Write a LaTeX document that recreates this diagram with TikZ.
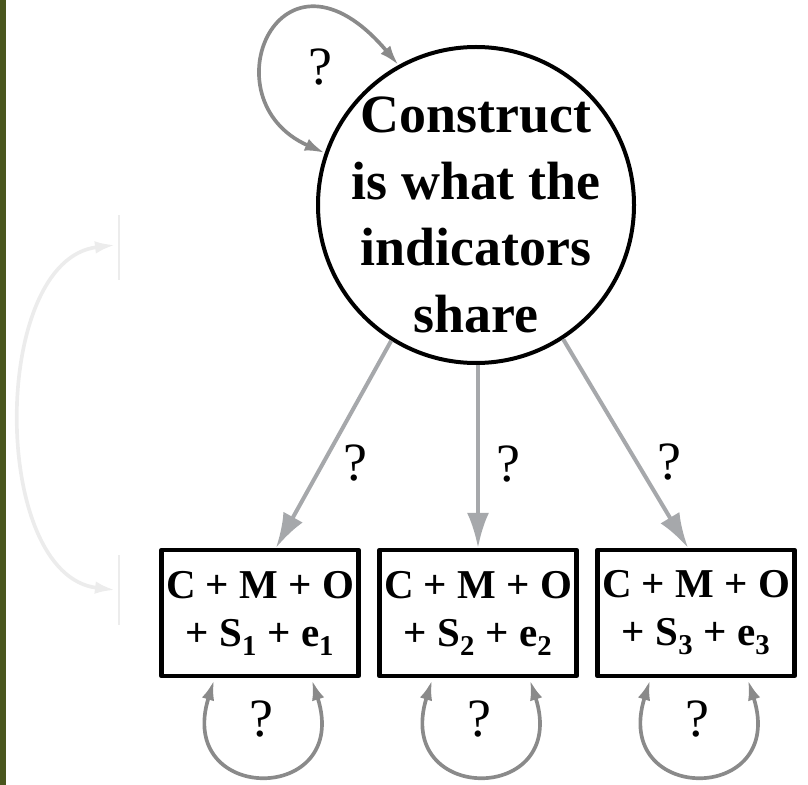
\documentclass[tikz,border=0pt]{standalone}
\usepackage{fontspec}
\setmainfont{Liberation Serif}
\usetikzlibrary{positioning, arrows.meta, calc}

\definecolor{bargreen}{RGB}{74,86,30}
\definecolor{pathgray}{RGB}{166,168,171}
\definecolor{loopgray}{RGB}{138,138,138}
\definecolor{fadegray}{RGB}{236,236,236}

\begin{document}
\begin{tikzpicture}[x=0.3mm, y=-0.3mm, line join=round,
    latent/.style={draw=black, circle, line width=1.2mm, minimum size=94.8mm, inner sep=0pt},
    indicator/.style={draw=black, rectangle, line width=1.3mm, minimum width=59.1mm, minimum height=37.8mm, inner sep=0pt, align=center, font=\fontsize{35}{41}\selectfont\bfseries},
    ctext/.style={align=center, font=\fontsize{46}{57}\selectfont\bfseries},
    qmark/.style={font=\fontsize{46}{46}\selectfont, inner sep=0pt},
    load/.style={draw=pathgray, line width=1.2mm, -{Latex[length=10.5mm, width=6.6mm]}},
    var/.style={draw=loopgray, line width=1.1mm, {Latex[length=6mm, width=3.8mm]}-{Latex[length=6mm, width=3.8mm]}},
    faded/.style={draw=fadegray, line width=1.1mm, {Latex[length=6mm, width=3.8mm]}-{Latex[length=6mm, width=3.8mm]}}]

    \useasboundingbox (0,0) rectangle (808,785);
    \fill[bargreen] (0,0) rectangle (6,785);

    % faded part on the left
    \coordinate (fadetop) at (115,245);
    \coordinate (fadebot) at (115,590);
    \draw[faded] (fadetop) .. controls (-10,260) and (-10,575) .. (fadebot);
    \draw[fadegray, line width=0.6mm] (119,215) -- (119,280) (119,555) -- (119,625);

    % construct
    \node[latent] (construct) at (476,205) {};
    \node[ctext] (ctxt) at ([yshift=-3mm]construct.center) {Construct\\is what the\\indicators\\share};

    % indicators
    \node[indicator] (ind2) at (478,613) {C + M + O\\+ S\textsubscript{2} + e\textsubscript{2}};
    \node[indicator, left=5mm of ind2] (ind1) {C + M + O\\+ S\textsubscript{1} + e\textsubscript{1}};
    \node[indicator, right=5mm of ind2] (ind3) {C + M + O\\+ S\textsubscript{3} + e\textsubscript{3}};

    % loadings
    \draw[load] (construct.238) -- node[qmark, pos=0.59, right=5.5mm] (q1) {?} ([xshift=4.8mm]ind1.north);
    \draw[load] (construct.south -| ind2.north) -- node[qmark, pos=0.54, right=5mm] (q2) {?} (ind2.north);
    \draw[load] (construct.303) -- node[qmark, pos=0.59, right=5.5mm] (q3) {?} ([xshift=-2.4mm]ind3.north);

    % variances
    \draw[var] (construct.161) .. controls (205,100) and (280,-75) .. (construct.119);
    \node[qmark] (qc) at (320,67) {?};
    \foreach \i in {1,2,3} {
        \draw[var] ($(ind\i.south)+(-46,2)$) .. controls +(-39,125) and +(40,125) .. ($(ind\i.south)+(52,2)$);
        \node[qmark] (v\i) at ($(ind\i.south)+(1,41)$) {?};
    }
\end{tikzpicture}
\end{document}
